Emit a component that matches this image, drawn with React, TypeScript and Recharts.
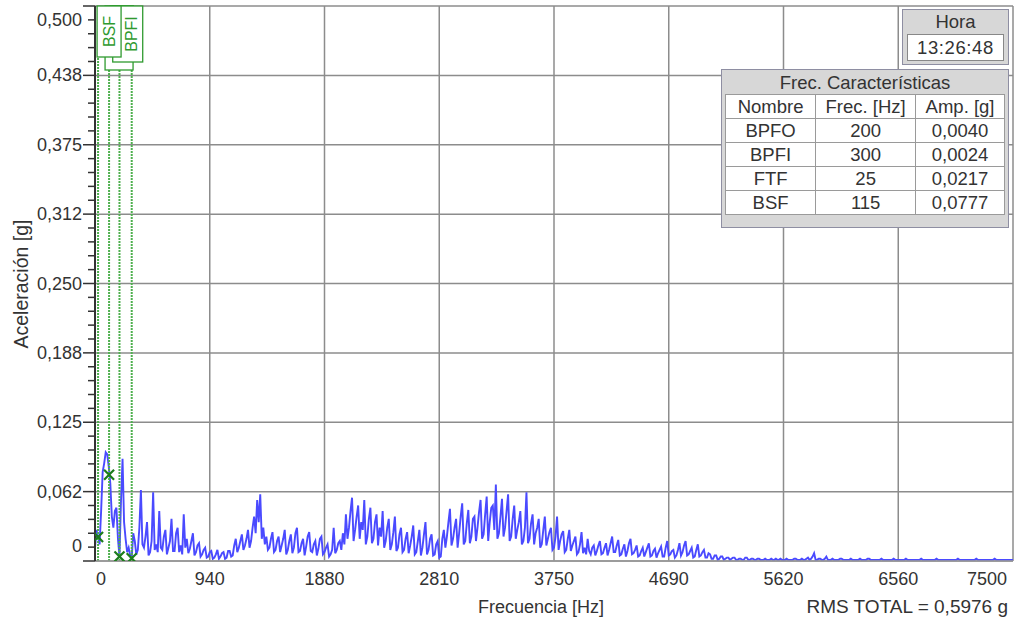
import React from 'react';
import {
  ComposedChart,
  Line,
  Scatter,
  XAxis,
  YAxis,
  CartesianGrid,
  ReferenceLine,
} from 'recharts';

// spectrum amplitude in milli-g, one value every 12.5 Hz from 0 to 7500 Hz
const FREQ_STEP = 12.5;
const AMP_MG = [
  12, 28, 22, 15, 45, 80, 88, 98, 96, 85, 70, 40, 30, 45, 48, 20, 4, 55, 92, 35,
  20, 8, 12, 5, 3, 25, 18, 6, 10, 30, 64, 15, 12, 22, 35, 5, 8, 18, 62, 10,
  15, 8, 45, 12, 10, 22, 28, 6, 12, 18, 38, 9, 9, 25, 30, 8, 14, 6, 42, 12,
  20, 7, 11, 18, 25, 5, 8, 14, 16, 4, 6, 10, 12, 3, 4, 8, 9, 2, 3, 6,
  10, 2, 4, 7, 8, 2, 3, 9, 9, 4, 5, 14, 20, 8, 12, 18, 24, 10, 14, 20,
  28, 12, 18, 30, 40, 25, 55, 35, 60, 20, 30, 15, 22, 10, 12, 20, 26, 8, 10, 18,
  22, 8, 14, 20, 28, 6, 10, 18, 24, 7, 12, 25, 30, 8, 9, 16, 20, 5, 13, 22,
  26, 9, 8, 15, 18, 5, 11, 20, 22, 6, 8, 12, 15, 4, 6, 10, 30, 7, 10, 16,
  18, 10, 25, 15, 42, 20, 30, 45, 57, 18, 28, 40, 50, 20, 35, 28, 55, 15, 22, 38,
  48, 16, 20, 35, 42, 14, 30, 22, 45, 12, 18, 30, 38, 10, 15, 26, 40, 9, 12, 24,
  30, 8, 10, 20, 26, 7, 14, 22, 32, 6, 8, 18, 28, 5, 12, 24, 35, 6, 10, 20,
  24, 5, 6, 15, 18, 3, 4, 20, 28, 12, 22, 35, 47, 14, 20, 30, 38, 12, 25, 40,
  52, 15, 18, 34, 46, 16, 22, 38, 40, 18, 30, 44, 55, 20, 24, 42, 58, 18, 35, 48,
  50, 28, 69, 20, 25, 40, 56, 22, 30, 45, 60, 18, 22, 38, 50, 20, 28, 35, 45, 15,
  18, 30, 62, 16, 20, 34, 42, 15, 25, 30, 38, 12, 15, 28, 40, 14, 20, 26, 30, 10,
  12, 22, 40, 10, 18, 24, 27, 8, 10, 20, 28, 9, 14, 18, 22, 6, 8, 15, 26, 7,
  12, 6, 20, 9, 6, 12, 14, 5, 9, 14, 18, 6, 7, 12, 16, 5, 10, 16, 22, 8,
  8, 14, 19, 5, 6, 11, 15, 4, 9, 16, 20, 6, 7, 10, 14, 4, 5, 9, 12, 4,
  8, 12, 16, 4, 5, 9, 11, 3, 7, 10, 13, 4, 4, 12, 18, 5, 6, 9, 10, 3,
  5, 10, 16, 5, 8, 14, 18, 5, 6, 9, 12, 3, 4, 10, 15, 4, 5, 8, 10, 3,
  3, 7, 6, 2, 2, 5, 5, 1, 2, 4, 4, 1, 2, 3, 3, 1, 2, 3, 3, 1,
  1, 2, 2, 1, 1, 3, 3, 1, 1, 2, 2, 1, 1, 2, 2, 1, 1, 1, 2, 1,
  1, 1, 2, 1, 1, 2, 1, 1, 2, 1, 1, 1, 2, 1, 1, 1, 1, 2, 2, 1,
  1, 1, 2, 1, 1, 2, 3, 1, 2, 4, 7, 1, 1, 2, 2, 1, 1, 2, 4, 1,
  1, 1, 2, 1, 1, 1, 1, 2, 2, 1, 1, 1, 1, 1, 2, 1, 1, 1, 1, 1,
  2, 1, 1, 1, 1, 2, 2, 1, 1, 1, 1, 1, 1, 1, 2, 1, 1, 1, 1, 1,
  1, 1, 2, 1, 1, 1, 1, 1, 1, 1, 2, 1, 1, 1, 1, 1, 1, 1, 1, 1,
  2, 1, 1, 1, 1, 1, 1, 1, 1, 1, 2, 1, 1, 1, 1, 1, 1, 1, 1, 1,
  1, 1, 1, 1, 2, 1, 1, 1, 1, 1, 1, 1, 1, 1, 1, 1, 2, 1, 1, 1,
  1, 1, 1, 1, 1, 1, 1, 1, 2, 1, 1, 1, 1, 1, 1, 1, 1, 1, 1, 1,
  1,
];

// characteristic frequencies (table + markers)
const TAG_NAMES = ['BPFO', 'BPFI', 'FTF', 'BSF'];
const TAG_FREQS = [200, 300, 25, 115];
const TAG_AMPS = [0.004, 0.0024, 0.0217, 0.0777];

const X_TICKS = [0, 937.5, 1875, 2812.5, 3750, 4687.5, 5625, 6562.5, 7500];
const X_LABELS = ['0', '940', '1880', '2810', '3750', '4690', '5620', '6560', '7500'];
const Y_MAJOR = [0, 0.0625, 0.125, 0.1875, 0.25, 0.3125, 0.375, 0.4375, 0.5];
const Y_LABELS = ['0', '0,062', '0,125', '0,188', '0,250', '0,312', '0,375', '0,438', '0,500'];
const Y_MINOR = 0.0125;
const Y_TICKS = Array.from({ length: 41 }, (_, i) => i * Y_MINOR);

const HORA = '13:26:48';
const RMS_TEXT = 'RMS TOTAL = 0,5976 g';

const FONT = '"Liberation Sans", Arial, sans-serif';
const TXT = '#333';
const GREEN = '#2f9a2f';

const spectrum = AMP_MG.map((v, i) => ({ f: i * FREQ_STEP, a: v / 1000 }));
const markers = TAG_FREQS.map((f, i) => ({ f, a: TAG_AMPS[i] }));

// tag box geometry relative to the marker line: [left, right, bottom from top, text dx]
const TAG_BOX: Record<string, number[]> = {
  FTF: [7, 35, 64, 21],
  BPFO: [-9, 14, 50, 2],
  BPFI: [-19, 11, 56, 0],
  BSF: [-12, 12, 51, 0],
};
const TAG_ORDER = ['FTF', 'BPFO', 'BPFI', 'BSF'];

const YTick = (props: any) => {
  const { x, y, payload } = props;
  const k = Math.round(payload.value / Y_MINOR);
  const major = k % 5 === 0;
  const idx = k / 5;
  let dy = 6;
  if (idx === 0) dy = -9;
  if (idx === 8) dy = 20;
  return (
    <g>
      <line x1={x - (major ? 12 : 7)} x2={x} y1={y} y2={y} stroke="#333" strokeWidth={1.5} />
      {major && (
        <text x={x - 13} y={y + dy} textAnchor="end" fontSize={18} fill={TXT} fontFamily={FONT}>
          {Y_LABELS[idx]}
        </text>
      )}
    </g>
  );
};

const XTick = (props: any) => {
  const { x, y, index } = props;
  let anchor = 'middle';
  let dx = 0;
  if (index === 0) dx = 6;
  if (index === X_TICKS.length - 1) {
    anchor = 'end';
    dx = -6;
  }
  return (
    <text x={x + dx} y={y + 24} textAnchor={anchor} fontSize={18} fill={TXT} fontFamily={FONT}>
      {X_LABELS[index]}
    </text>
  );
};

const XMark = (props: any) => {
  const { cx, cy } = props;
  return (
    <path
      d={`M${cx - 5},${cy - 5}L${cx + 5},${cy + 5}M${cx - 5},${cy + 5}L${cx + 5},${cy - 5}`}
      stroke="#1c7c1c"
      strokeWidth={2.2}
    />
  );
};

const tagLabel = (name: string) => (props: any) => {
  const vb = props.viewBox || {};
  const lx = vb.x;
  const top = vb.y;
  const [l, r, b, tdx] = TAG_BOX[name];
  const cx = lx + tdx;
  const cy = top + b / 2;
  return (
    <g>
      <rect x={lx + l} y={top} width={r - l} height={b} fill="#fff" stroke={GREEN} strokeWidth={1.3} />
      <text
        x={cx}
        y={cy}
        transform={`rotate(-90 ${cx} ${cy})`}
        textAnchor="middle"
        dominantBaseline="central"
        fontSize={16}
        fill={GREEN}
        fontFamily={FONT}
      >
        {name}
      </text>
    </g>
  );
};

const cell: React.CSSProperties = {
  border: '1px solid #9a9a9a',
  background: '#fff',
  height: 23,
  padding: 0,
  textAlign: 'center',
  lineHeight: '23px',
};

export default function App() {
  return (
    <div style={{ position: 'relative', width: 1015, height: 621, fontFamily: FONT, color: TXT }}>
      <style>{'body{margin:0;background:#fff}'}</style>
      <ComposedChart
        width={1015}
        height={621}
        data={spectrum}
        margin={{ top: 6, right: 2, left: 10, bottom: 30 }}
      >
        <CartesianGrid
          horizontalValues={Y_MAJOR}
          verticalValues={X_TICKS}
          stroke="#8c8c8c"
          strokeWidth={1.5}
        />
        <XAxis
          dataKey="f"
          type="number"
          domain={[0, 7500]}
          ticks={X_TICKS}
          interval={0}
          tick={<XTick />}
          tickSize={0}
          tickMargin={0}
          tickLine={false}
          axisLine={{ stroke: '#999', strokeWidth: 1.5 }}
          height={30}
          allowDataOverflow
        />
        <YAxis
          type="number"
          domain={[0, 0.5]}
          ticks={Y_TICKS}
          interval={0}
          tick={<YTick />}
          tickSize={0}
          tickMargin={0}
          tickLine={false}
          axisLine={{ stroke: '#333', strokeWidth: 2 }}
          width={85}
          allowDataOverflow
        />
        <Line
          type="linear"
          dataKey="a"
          stroke="#4a4aff"
          strokeWidth={1.9}
          strokeLinejoin="miter"
          dot={false}
          isAnimationActive={false}
        />
        {TAG_FREQS.map((f, i) => (
          <ReferenceLine
            key={TAG_NAMES[i]}
            x={f}
            stroke="#4fb04f"
            strokeWidth={2}
            strokeDasharray="2 1"
          />
        ))}
        {TAG_ORDER.map((name) => (
          <ReferenceLine
            key={'tag' + name}
            x={TAG_FREQS[TAG_NAMES.indexOf(name)]}
            stroke="none"
            label={tagLabel(name)}
          />
        ))}
        <Scatter data={markers} dataKey="a" shape={<XMark />} isAnimationActive={false} />
      </ComposedChart>

      <div style={{ position: 'absolute', left: 21, top: 284, width: 0, height: 0 }}>
        <div
          style={{
            position: 'absolute',
            left: 0,
            top: 0,
            transform: 'translate(-50%, -50%) rotate(-90deg)',
            whiteSpace: 'nowrap',
            fontSize: 19.5,
            lineHeight: '20px',
          }}
        >
          Aceleración [g]
        </div>
      </div>
      <div
        style={{
          position: 'absolute',
          left: 391,
          width: 300,
          top: 596,
          textAlign: 'center',
          fontSize: 18,
          lineHeight: '22px',
        }}
      >
        Frecuencia [Hz]
      </div>
      <div style={{ position: 'absolute', right: 7, top: 596, fontSize: 19, lineHeight: '22px' }}>
        {RMS_TEXT}
      </div>

      {/* Hora box */}
      <div
        style={{
          position: 'absolute',
          left: 902,
          top: 9,
          width: 105,
          height: 54,
          background: '#d7d7d7',
          border: '1px solid #8e8ea2',
          fontSize: 18.5,
        }}
      >
        <div style={{ textAlign: 'center', lineHeight: '22px', marginTop: 1 }}>Hora</div>
        <div
          style={{
            position: 'absolute',
            left: 4,
            top: 24,
            width: 95,
            height: 25,
            background: '#fff',
            border: '1px solid #888',
            textAlign: 'center',
            lineHeight: '25px',
            letterSpacing: 0.6,
          }}
        >
          {HORA}
        </div>
      </div>

      {/* characteristic frequencies */}
      <div
        style={{
          position: 'absolute',
          left: 721,
          top: 69,
          width: 286,
          height: 157,
          background: '#d7d7d7',
          border: '1px solid #8e8ea2',
          fontSize: 18.5,
        }}
      >
        <div style={{ textAlign: 'center', lineHeight: '22px', marginTop: 2 }}>Frec. Características</div>
        <table
          style={{
            position: 'absolute',
            left: 3,
            top: 24,
            width: 280,
            borderCollapse: 'collapse',
            fontSize: 18.5,
            color: TXT,
            fontFamily: FONT,
          }}
        >
          <tbody>
            <tr>
              <td style={{ ...cell, width: 90 }}>Nombre</td>
              <td style={{ ...cell, width: 101 }}>Frec. [Hz]</td>
              <td style={{ ...cell, width: 89 }}>Amp. [g]</td>
            </tr>
            {TAG_NAMES.map((n, i) => (
              <tr key={n}>
                <td style={cell}>{n}</td>
                <td style={cell}>{TAG_FREQS[i]}</td>
                <td style={cell}>{TAG_AMPS[i].toFixed(4).replace('.', ',')}</td>
              </tr>
            ))}
          </tbody>
        </table>
      </div>
    </div>
  );
}
